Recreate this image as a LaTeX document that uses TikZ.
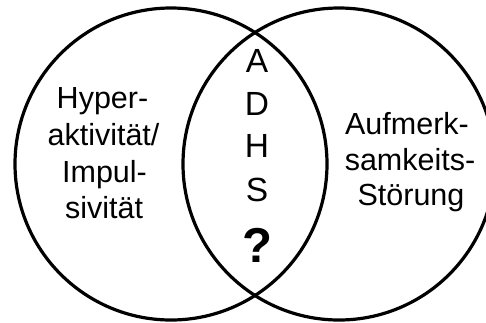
\documentclass[tikz,border=0pt]{standalone}
\usepackage{fontspec}
\setmainfont{Liberation Sans}
\begin{document}
\begin{tikzpicture}[x=1pt,y=-1pt,
  ring/.style={draw=black,line width=3.2pt,circle,minimum size=312pt,inner sep=0pt},
  side/.style={anchor=base,inner sep=0pt,font=\fontsize{30.5}{36}\selectfont},
  mid/.style={anchor=base,inner sep=0pt,font=\fontsize{33.5}{40}\selectfont},
  qmark/.style={anchor=base,inner sep=0pt,font=\fontsize{49}{56}\selectfont\bfseries}]
\useasboundingbox (0,0) rectangle (486,322);
\begin{scope}
\clip (0,0) rectangle (486,322);
\node[ring] (L) at (171,164) {};
\node[ring] (R) at (339,164) {};
\end{scope}
\node[side] (l1) at (102.5,108.5) {Hyper-};
\node[side] (l2) at (103.5,145.5) {aktivität/};
\node[side] (l3) at (104.5,182) {Impul-};
\node[side] (l4) at (104,218) {sivität};
\node[side] (r1) at (407,134) {Aufmerk-};
\node[side] (r2) at (410,170) {samkeits-};
\node[side] (r3) at (411,205) {Störung};
\node[mid] (a) at (257,72) {A};
\node[mid] (d) at (257,115) {D};
\node[mid] (h) at (257,157) {H};
\node[mid] (s) at (257,201) {S};
\node[qmark] (q) at (257,262) {?};
\end{tikzpicture}
\end{document}
